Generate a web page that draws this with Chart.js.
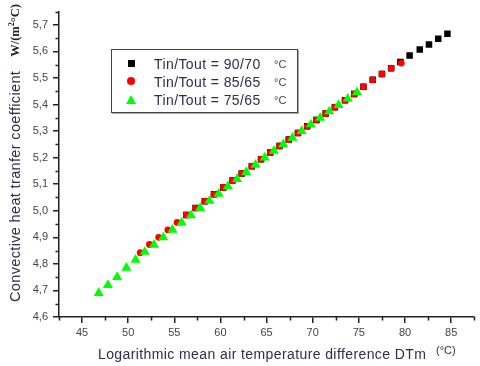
<!DOCTYPE html>
<html>
<head>
<meta charset="utf-8">
<script src="https://cdn.jsdelivr.net/npm/chart.js@4/dist/chart.umd.min.js"></script>
<style>
  html, body { margin: 0; padding: 0; background: #fff; }
  #wrap { position: relative; width: 480px; height: 366px; overflow: hidden; font-family: "Liberation Sans", Arial, sans-serif; }
  #c { position: absolute; left: 0; top: 0; }
  .txt { position: absolute; white-space: nowrap; color: #302c4c; }
  #legend { position: absolute; left: 111px; top: 49px; width: 185px; height: 62px; border: 1px solid #444; box-shadow: 1px 1px 0 #aaa; background: #fff; }
  .row { position: absolute; left: 0; height: 18px; width: 185px; }
  .lt { position: absolute; left: 42px; top: 1px; font-size: 14px; letter-spacing: 0.4px; color: #302c4c; }
  .lu { position: absolute; left: 162px; top: 3px; font-size: 11px; color: #444; }
  .sq { position: absolute; left: 16px; top: 5px; width: 7px; height: 7px; background: #000; }
  .ci { position: absolute; left: 15px; top: 4px; width: 8px; height: 8px; border-radius: 50%; background: #f00; }
  .tr { position: absolute; left: 14px; top: 4px; width: 0; height: 0; border-left: 5px solid transparent; border-right: 5px solid transparent; border-bottom: 9px solid #0f0; }
</style>
</head>
<body>
<div id="wrap">
  <canvas id="c" width="480" height="366"></canvas>
  <div id="legend">
    <div class="row" style="top:5px"><div class="sq"></div><span class="lt">Tin/Tout = 90/70</span><span class="lu">°C</span></div>
    <div class="row" style="top:23px"><div class="ci"></div><span class="lt">Tin/Tout = 85/65</span><span class="lu">°C</span></div>
    <div class="row" style="top:41px"><div class="tr"></div><span class="lt">Tin/Tout = 75/65</span><span class="lu">°C</span></div>
  </div>
  <div class="txt" id="xtitle" style="left:98px; top:346px; font-size:14px; letter-spacing:0.4px;">Logarithmic mean air temperature difference DTm</div>
  <div class="txt" style="left:436px; top:344px; font-size:11px; color:#333;">(°C)</div>
  <div id="ytitle" style="position:absolute; left:-128px; top:149px; width:286px; height:20px; transform:rotate(-90deg); transform-origin:50% 50%; white-space:nowrap; display:flex; align-items:center;">
    <span style="font-size:14.5px; color:#302c4c; letter-spacing:0.35px;">Convective heat tranfer coefficient</span>
    <span style="margin-left:14px; font-family:'Liberation Serif','Times New Roman',serif; font-weight:bold; font-size:12.5px; color:#222;">W/(m<sup style="font-size:8px">2</sup>°C)</span>
  </div>
</div>
<script>
// ---- data ----
const xTickValues = [45, 50, 55, 60, 65, 70, 75, 80, 85];
const xTickLabels = ['45', '50', '55', '60', '65', '70', '75', '80', '85'];
const yTickValues = [4.6, 4.7, 4.8, 4.9, 5.0, 5.1, 5.2, 5.3, 5.4, 5.5, 5.6, 5.7];
const yTickLabels = ['4,6', '4,7', '4,8', '4,9', '5,0', '5,1', '5,2', '5,3', '5,4', '5,5', '5,6', '5,7'];
const xMinorValues = [42.5, 47.5, 52.5, 57.5, 62.5, 67.5, 72.5, 77.5, 82.5, 87.5];
const yMinorValues = [4.65, 4.75, 4.85, 4.95, 5.05, 5.15, 5.25, 5.35, 5.45, 5.55, 5.65, 5.75];

const dtm9070 = [56.3, 57.3, 58.3, 59.3, 60.3, 61.3, 62.3, 63.4, 64.4, 65.4, 66.4, 67.4, 68.4, 69.4, 70.4, 71.4, 72.4, 73.5, 74.5, 75.5, 76.5, 77.5, 78.5, 79.5, 80.5, 81.6, 82.6, 83.6, 84.6];
const h9070   = [4.984, 5.010, 5.036, 5.062, 5.088, 5.114, 5.140, 5.168, 5.194, 5.219, 5.244, 5.268, 5.293, 5.318, 5.342, 5.366, 5.390, 5.416, 5.440, 5.467, 5.493, 5.515, 5.537, 5.560, 5.585, 5.607, 5.626, 5.648, 5.667];

const dtm8565 = [51.3, 52.3, 53.3, 54.3, 55.3, 56.3, 57.3, 58.3, 59.3, 60.3, 61.3, 62.3, 63.4, 64.4, 65.4, 66.4, 67.4, 68.4, 69.4, 70.4, 71.4, 72.4, 73.5, 74.5, 75.5, 76.5, 77.5, 78.5, 79.6];
const h8565   = [4.842, 4.873, 4.900, 4.928, 4.956, 4.984, 5.010, 5.036, 5.062, 5.088, 5.114, 5.140, 5.168, 5.194, 5.219, 5.244, 5.268, 5.293, 5.318, 5.342, 5.366, 5.390, 5.416, 5.440, 5.467, 5.493, 5.515, 5.537, 5.556];

const dtm7565 = [46.8, 47.8, 48.8, 49.8, 50.8, 51.8, 52.8, 53.8, 54.8, 55.8, 56.8, 57.8, 58.8, 59.8, 60.8, 61.8, 62.8, 63.8, 64.8, 65.8, 66.8, 67.8, 68.8, 69.8, 70.8, 71.8, 72.8, 73.8, 74.8];
const h7565   = [4.690, 4.720, 4.750, 4.785, 4.815, 4.845, 4.872, 4.900, 4.928, 4.955, 4.983, 5.010, 5.037, 5.064, 5.092, 5.119, 5.146, 5.173, 5.200, 5.226, 5.250, 5.275, 5.300, 5.325, 5.350, 5.374, 5.398, 5.422, 5.446];

const toPts = (xs, ys) => xs.map((x, i) => ({ x: x, y: ys[i] }));

const minorTicks = {
  id: 'minorTicks',
  afterDraw(chart) {
    const ctx = chart.ctx;
    const xs = chart.scales.x, ys = chart.scales.y;
    ctx.save();
    ctx.strokeStyle = '#222';
    ctx.lineWidth = 1.5;
    ctx.beginPath();
    xMinorValues.forEach(v => {
      const p = Math.round(xs.getPixelForValue(v)) + 0.5;
      ctx.moveTo(p, ys.bottom); ctx.lineTo(p, ys.bottom + 3.5);
    });
    yMinorValues.forEach(v => {
      const p = Math.round(ys.getPixelForValue(v)) + 0.5;
      ctx.moveTo(xs.left, p); ctx.lineTo(xs.left - 3.5, p);
    });
    ctx.stroke();
    ctx.restore();
  }
};

const tickFont = { family: "'Liberation Sans', Arial, sans-serif", size: 11 };

new Chart(document.getElementById('c'), {
  type: 'scatter',
  data: {
    datasets: [
      { label: 'Tin/Tout = 90/70 °C', data: toPts(dtm9070, h9070), pointStyle: 'rect', pointRadius: 4.6, backgroundColor: '#000', borderColor: '#000', borderWidth: 0, order: 3 },
      { label: 'Tin/Tout = 85/65 °C', data: toPts(dtm8565, h8565), pointStyle: 'circle', pointRadius: 3.4, backgroundColor: '#ff0000', borderColor: '#ff0000', borderWidth: 0, order: 2 },
      { label: 'Tin/Tout = 75/65 °C', data: toPts(dtm7565, h7565), pointStyle: 'triangle', pointRadius: 5.8, backgroundColor: '#00ff00', borderColor: '#00ff00', borderWidth: 0, order: 1 }
    ]
  },
  options: {
    responsive: false,
    animation: false,
    devicePixelRatio: 1,
    layout: { padding: { top: 5, right: 5, left: 0, bottom: 0 } },
    plugins: { legend: { display: false }, tooltip: { enabled: false } },
    scales: {
      x: {
        type: 'linear', min: 42.5, max: 87.5,
        afterBuildTicks: s => { s.ticks = xTickValues.map(v => ({ value: v })); },
        afterFit: s => { s.height = 49; },
        ticks: { autoSkip: false, maxRotation: 0, padding: 3, color: '#444', font: tickFont,
                 callback: (v, i) => xTickLabels[i] },
        grid: { drawOnChartArea: false, drawTicks: true, tickLength: 6, color: '#222', lineWidth: 1.5 },
        border: { display: true, color: '#222', width: 1.5 }
      },
      y: {
        type: 'linear', min: 4.6, max: 5.75,
        afterBuildTicks: s => { s.ticks = yTickValues.map(v => ({ value: v })); },
        afterFit: s => { s.width = 59; },
        ticks: { autoSkip: false, padding: 5, color: '#444', font: tickFont,
                 callback: (v, i) => yTickLabels[i] },
        grid: { drawOnChartArea: false, drawTicks: true, tickLength: 6, color: '#222', lineWidth: 1.5 },
        border: { display: true, color: '#222', width: 1.5 }
      }
    }
  },
  plugins: [minorTicks]
});
</script>
</body>
</html>
